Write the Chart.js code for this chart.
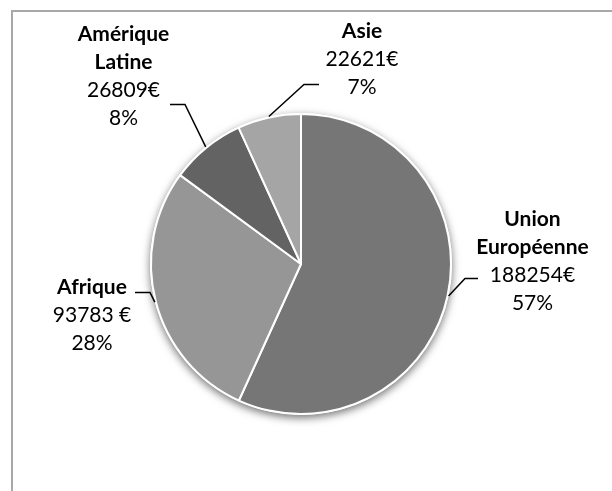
<!DOCTYPE html>
<html>
<head>
<meta charset="utf-8">
<script src="https://cdn.jsdelivr.net/npm/chart.js@4.4.1/dist/chart.umd.min.js"></script>
<style>
  html, body { margin: 0; padding: 0; background: #ffffff; }
  #wrap { width: 612px; height: 491px; position: relative; }
</style>
</head>
<body>
<div id="wrap"><canvas id="c" width="612" height="491"></canvas></div>
<script>
// ---- data ----
const categories = ["Union Européenne", "Afrique", "Amérique Latine", "Asie"];
const values = [188254, 93783, 26809, 22621];
const nameLines = [["Union", "Européenne"], ["Afrique"], ["Amérique", "Latine"], ["Asie"]];
const valueLabels = ["188254€", "93783 €", "26809€", "22621€"];
const percentLabels = ["57%", "28%", "8%", "7%"];

// ---- styles ----
const sliceColors = ["#767676", "#969696", "#636363", "#a5a5a5"];
// label layout, offsets from pie centre in px at radius 150
const labelLayout = [
  { elbow: [164, 14.5], end: [177, 14.5], text: [231.5, -38] },
  { elbow: [-151, 28.5], end: [-166, 28.5], text: [-209, 29.5] },
  { elbow: [-116, -159.5], end: [-131, -159.5], text: [-177.5, -223] },
  { elbow: [3, -179.5], end: [18, -179.5], text: [61, -226.5] }
];
const FONT = "Lato, 'Open Sans', sans-serif";
const LINE_H = 28;

const framePlugin = {
  id: 'frame',
  beforeDraw(chart) {
    const ctx = chart.ctx;
    ctx.save();
    ctx.fillStyle = '#ffffff';
    ctx.fillRect(0, 0, chart.width, chart.height);
    ctx.strokeStyle = '#a8a8a8';
    ctx.lineWidth = 2;
    ctx.beginPath();
    ctx.moveTo(12, chart.height + 5);
    ctx.lineTo(12, 11);
    ctx.lineTo(chart.width + 5, 11);
    ctx.stroke();
    ctx.restore();
  }
};

const shadowPlugin = {
  id: 'pieShadow',
  beforeDatasetsDraw(chart) {
    const arc = chart.getDatasetMeta(0).data[0];
    if (!arc) return;
    const ctx = chart.ctx;
    ctx.save();
    ctx.shadowColor = 'rgba(0,0,0,0.55)';
    ctx.shadowBlur = 9;
    ctx.shadowOffsetY = 3;
    ctx.beginPath();
    ctx.arc(arc.x, arc.y, arc.outerRadius + 1, 0, Math.PI * 2);
    ctx.fillStyle = '#ffffff';
    ctx.fill();
    ctx.restore();
  }
};

const labelPlugin = {
  id: 'outLabels',
  afterDatasetsDraw(chart) {
    const meta = chart.getDatasetMeta(0);
    const ctx = chart.ctx;
    meta.data.forEach((arc, i) => {
      const cx = arc.x, cy = arc.y, r = arc.outerRadius;
      const k = r / 150;
      const mid = (arc.startAngle + arc.endAngle) / 2;
      const L = labelLayout[i];
      const ex = cx + Math.cos(mid) * (r + 1), ey = cy + Math.sin(mid) * (r + 1);
      ctx.save();
      ctx.strokeStyle = '#000000';
      ctx.lineWidth = 1.5;
      ctx.beginPath();
      ctx.moveTo(ex, ey);
      ctx.lineTo(cx + L.elbow[0] * k, cy + L.elbow[1] * k);
      ctx.lineTo(cx + L.end[0] * k, cy + L.end[1] * k);
      ctx.stroke();
      // text
      ctx.fillStyle = '#000000';
      ctx.textAlign = 'center';
      ctx.textBaseline = 'alphabetic';
      const tx = cx + L.text[0] * k;
      let ty = cy + L.text[1] * k;
      nameLines[i].forEach(line => {
        ctx.font = "bold 21px " + FONT;
        ctx.fillText(line, tx, ty);
        ty += LINE_H;
      });
      ctx.font = "21px " + FONT;
      ctx.fillText(valueLabels[i], tx, ty); ty += LINE_H;
      ctx.fillText(percentLabels[i], tx, ty);
      ctx.restore();
    });
  }
};

new Chart(document.getElementById('c'), {
  type: 'pie',
  data: {
    labels: categories,
    datasets: [{
      data: values,
      backgroundColor: sliceColors,
      borderColor: '#ffffff',
      borderWidth: 2,
      hoverOffset: 0
    }]
  },
  options: {
    responsive: false,
    animation: false,
    devicePixelRatio: 1,
    layout: { padding: { left: 150, right: 160, top: 113, bottom: 76 } },
    plugins: {
      legend: { display: false },
      tooltip: { enabled: false }
    }
  },
  plugins: [framePlugin, shadowPlugin, labelPlugin]
});
</script>
</body>
</html>
